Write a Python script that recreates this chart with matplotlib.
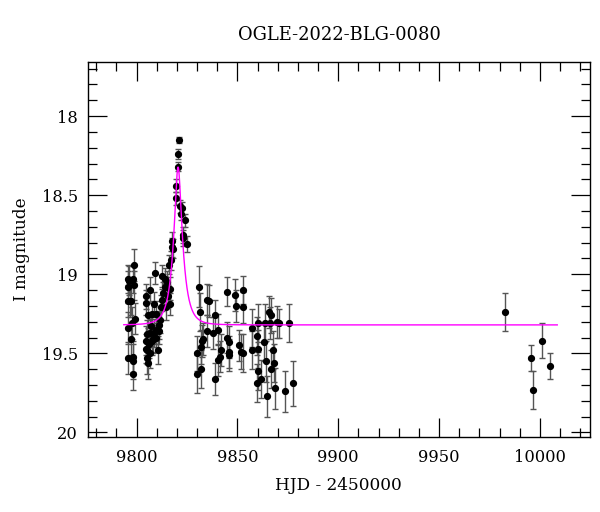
import numpy as np
import matplotlib
matplotlib.use("Agg")
import matplotlib.pyplot as plt
from matplotlib.ticker import MultipleLocator

plt.rcParams['font.family'] = ['DejaVu Serif']

title = "OGLE-2022-BLG-0080"
xlabel = "HJD - 2450000"
ylabel = "I magnitude"

# observations: HJD-2450000, I mag, error
hjd = [
    9795.8, 9795.9, 9795.8, 9795.8, 9795.9, 9796.5, 9796.8, 9797.1, 9797.5, 9797.7,
    9798.1, 9798.1, 9798.2, 9798.3, 9798.7, 9798.9, 9799.0,
    9804.8, 9804.8, 9804.8, 9804.9, 9805.0, 9805.1, 9805.7, 9805.7, 9806.7, 9806.7,
    9807.6, 9807.6, 9808.6, 9808.6, 9809.0, 9809.5, 9809.5, 9810.5, 9810.9, 9811.4,
    9812.0, 9812.4, 9812.8, 9813.3, 9813.9, 9814.3, 9814.7, 9815.2, 9815.8, 9816.2,
    9816.6, 9816.8, 9817.1, 9817.5, 9817.7, 9818.1,
    9805.4, 9806.2, 9807.1, 9808.1, 9809.8, 9806.9, 9811.0,
    9819.6, 9819.6, 9820.4, 9820.6, 9821.0, 9821.5, 9821.9, 9822.5, 9822.9, 9823.0,
    9823.8, 9824.8,
    9829.9, 9829.9, 9830.9, 9831.4, 9831.8, 9831.8, 9832.4, 9833.0, 9834.9, 9834.9,
    9835.8, 9837.7, 9838.7, 9838.7, 9840.6, 9840.6, 9841.3, 9841.7, 9844.8, 9844.8,
    9845.7, 9845.7, 9845.7, 9848.6, 9849.5, 9850.9, 9851.8, 9852.8, 9852.8, 9852.8,
    9857.5, 9857.5, 9859.6, 9859.6, 9860.4, 9860.4, 9860.4, 9861.5, 9863.2, 9863.8,
    9864.4, 9864.8, 9865.7, 9866.3, 9866.7, 9866.7, 9867.6, 9868.2, 9868.6, 9869.5,
    9870.5, 9873.7, 9875.6, 9877.5,
    9982.9, 9995.8, 9996.8, 10001.0, 10004.8,
]
mag = [
    19.03, 19.08, 19.17, 19.34, 19.53, 19.04, 19.17, 19.41, 19.17, 19.31,
    19.03, 19.52, 19.55, 19.63, 19.07, 18.94, 19.28,
    19.14, 19.18, 19.42, 19.47, 19.48, 19.53, 19.56, 19.26, 19.10, 19.37,
    19.25, 19.42, 19.19, 19.37, 18.99, 19.25, 19.40, 19.48, 19.36, 19.29,
    19.21, 19.16, 19.01, 19.12, 19.03, 19.08, 19.21, 19.05, 19.14, 18.94,
    19.09, 19.19, 18.91, 18.83, 18.79, 18.84,
    19.38, 19.44, 19.33, 19.41, 19.35, 19.50, 19.32,
    18.44, 18.52, 18.32, 18.24, 18.15, 18.57, 18.62, 18.58, 18.75, 18.77,
    18.66, 18.81,
    19.50, 19.63, 19.08, 19.24, 19.46, 19.60, 19.42, 19.41, 19.36, 19.16,
    19.17, 19.37, 19.26, 19.66, 19.35, 19.54, 19.52, 19.48, 19.11, 19.40,
    19.43, 19.49, 19.51, 19.13, 19.20, 19.45, 19.49, 19.50, 19.10, 19.21,
    19.34, 19.48, 19.39, 19.69, 19.47, 19.61, 19.31, 19.66, 19.43, 19.31,
    19.55, 19.77, 19.24, 19.31, 19.26, 19.60, 19.48, 19.56, 19.72, 19.30,
    19.31, 19.74, 19.31, 19.69,
    19.24, 19.53, 19.73, 19.42, 19.58,
]
err = [
    0.09, 0.10, 0.10, 0.10, 0.10, 0.09, 0.10, 0.10, 0.09, 0.10,
    0.09, 0.10, 0.11, 0.10, 0.09, 0.10, 0.10,
    0.08, 0.08, 0.09, 0.09, 0.09, 0.10, 0.10, 0.08, 0.08, 0.09,
    0.08, 0.09, 0.08, 0.09, 0.07, 0.08, 0.09, 0.09, 0.08, 0.08,
    0.08, 0.07, 0.07, 0.07, 0.07, 0.07, 0.08, 0.07, 0.07, 0.06,
    0.07, 0.07, 0.06, 0.06, 0.06, 0.06,
    0.09, 0.09, 0.09, 0.09, 0.09, 0.09, 0.09,
    0.04, 0.04, 0.03, 0.03, 0.02, 0.04, 0.04, 0.04, 0.05, 0.05,
    0.04, 0.05,
    0.11, 0.12, 0.13, 0.12, 0.11, 0.12, 0.10, 0.10, 0.10, 0.10,
    0.10, 0.10, 0.10, 0.10, 0.10, 0.10, 0.10, 0.10, 0.09, 0.10,
    0.10, 0.10, 0.10, 0.10, 0.10, 0.10, 0.11, 0.12, 0.09, 0.10,
    0.12, 0.12, 0.12, 0.12, 0.12, 0.12, 0.12, 0.12, 0.12, 0.12,
    0.13, 0.13, 0.10, 0.10, 0.11, 0.12, 0.12, 0.12, 0.13, 0.10,
    0.09, 0.13, 0.12, 0.14,
    0.12, 0.08, 0.12, 0.11, 0.08,
]

# point-lens model parameters
t0 = 9820.6
tE = 4.7
u0 = 0.33
fs = 0.70
I_base = 19.32
model_range = (9793.7, 10008.6)

def paczynski(t):
    u = np.sqrt(u0**2 + ((t - t0) / tE)**2)
    A = (u**2 + 2) / (u * np.sqrt(u**2 + 4))
    return I_base - 2.5 * np.log10(fs * A + (1 - fs))

fig = plt.figure(figsize=(6, 5.12), dpi=100)
ax = fig.add_axes([0.1462, 0.147, 0.837, 0.7313])

tm = np.linspace(model_range[0], model_range[1], 4000)
ax.plot(tm, paczynski(tm), color='#ff00ff', lw=1.0, zorder=3)

ax.errorbar(hjd, mag, yerr=err, fmt='o', color='black', ms=4.2,
            ecolor='#555555', elinewidth=1.0, capsize=2.0, capthick=1.0, zorder=2)

ax.set_xlim(9775.8, 10024.8)
ax.set_ylim(20.027, 17.66)

ax.xaxis.set_major_locator(MultipleLocator(50))
ax.xaxis.set_minor_locator(MultipleLocator(10))
ax.yaxis.set_major_locator(MultipleLocator(0.5))
ax.yaxis.set_minor_locator(MultipleLocator(0.1))
ax.yaxis.set_major_formatter(plt.FuncFormatter(lambda v, p: f"{v:g}"))

ax.tick_params(which='both', direction='in', top=True, right=True, width=0.9, labelsize=11.7)
ax.tick_params(which='major', length=13.5)
ax.tick_params(which='minor', length=6.5)
ax.tick_params(axis='x', pad=9)
ax.tick_params(axis='y', pad=7)
for s in ax.spines.values():
    s.set_linewidth(1.0)

fig.text(339/600, 1 - 34.7/512, title, ha='center', va='center', fontsize=12.9)
fig.text(338.8/600, 1 - 485/512, xlabel, ha='center', va='center', fontsize=12.2)
fig.text(21/600, 1 - 249/512, ylabel, ha='center', va='center', rotation=90, fontsize=12.2)

fig.savefig("out.png", dpi=100)
